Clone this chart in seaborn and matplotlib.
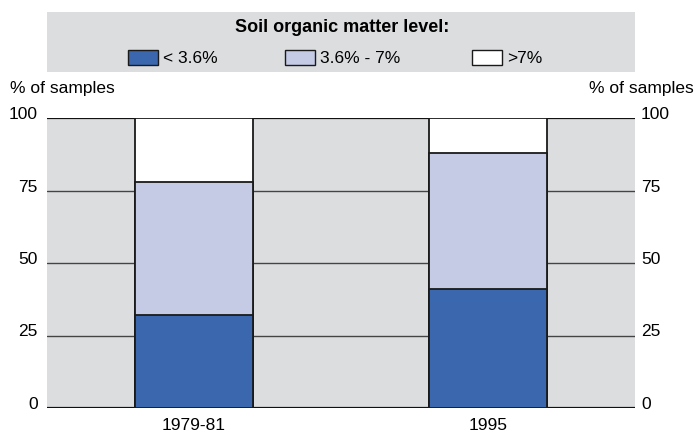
import matplotlib
matplotlib.use("Agg")
import matplotlib.pyplot as plt
from matplotlib.patches import Rectangle, Patch
from matplotlib import font_manager
import matplotlib.transforms as mtransforms
import seaborn as sns
import pandas as pd

# Share of samples by soil organic matter level
periods = ["1979-81", "1995"]
low = [32, 41]        # < 3.6%
mid = [46, 47]        # 3.6% - 7%
high = [22, 12]       # > 7%
level_labels = ["< 3.6%", "3.6% - 7%", ">7%"]
y_ticks = [0, 25, 50, 75, 100]

colors = ["#3a67ad", "#c5cae5", "#ffffff"]
panel_gray = "#dcdddf"

sns.set_style("white")
names = {f.name for f in font_manager.fontManager.ttflist}
fam = "Liberation Sans Narrow" if "Liberation Sans Narrow" in names else "Liberation Sans"
plt.rcParams["font.family"] = [fam, "DejaVu Sans"]
plt.rcParams["text.color"] = "black"
plt.rcParams["xtick.color"] = "black"
plt.rcParams["ytick.color"] = "black"

FS = 12.5

fig = plt.figure(figsize=(6.98, 4.34), dpi=100)
ax = fig.add_axes([47 / 698, 1 - 408 / 434, 588 / 698, 290 / 434])
ax.set_facecolor(panel_gray)

# Stacked bars: draw cumulative totals from the top layer down
cum_mid = [a + b for a, b in zip(low, mid)]
cum_high = [a + b + c for a, b, c in zip(low, mid, high)]
layers = [cum_high, cum_mid, low]
layer_colors = [colors[2], colors[1], colors[0]]

# Gridlines behind bars
for v in y_ticks:
    if v in (0, 100):
        ax.axhline(v, color="#111111", lw=1.6, zorder=1)
    else:
        ax.axhline(v, color="#444444", lw=1.0, zorder=1)

for vals, c in zip(layers, layer_colors):
    df = pd.DataFrame({"period": periods, "value": vals})
    sns.barplot(data=df, x="period", y="value", color=c, width=0.4,
                edgecolor="#1a1a1a", linewidth=1.3, saturation=1,
                ax=ax, zorder=3)

ax.set_xlim(-0.5, 1.5)
ax.set_ylim(0, 100)
ax.set_xlabel("")
ax.set_ylabel("")
ax.set_yticks(y_ticks)
ax.tick_params(axis="y", length=0, pad=6.5, labelsize=FS,
               left=True, right=False, labelleft=True, labelright=False)
ax.tick_params(axis="x", length=0, pad=7.5, labelsize=FS)
for s in ax.spines.values():
    s.set_visible(False)

# Right-hand value scale
axr = ax.twinx()
axr.set_ylim(0, 100)
axr.set_yticks(y_ticks)
axr.tick_params(axis="y", length=0, pad=4.3, labelsize=FS)
for s in axr.spines.values():
    s.set_visible(False)
axr.grid(False)

# Value labels sit on their gridlines
drop = mtransforms.ScaledTranslation(0, -1 / 100, fig.dpi_scale_trans)
for lab in ax.get_yticklabels() + axr.get_yticklabels():
    lab.set_va("baseline")
    lab.set_transform(lab.get_transform() + drop)

# Axis captions on both sides
fig.text(10 / 698, 1 - 88 / 434, "% of samples", fontsize=FS,
         ha="left", va="center")
fig.text(694 / 698, 1 - 88 / 434, "% of samples", fontsize=FS,
         ha="right", va="center")

# Legend panel
fig.patches.append(Rectangle((47 / 698, 1 - 72 / 434), 588 / 698, 60 / 434,
                             transform=fig.transFigure, facecolor=panel_gray,
                             edgecolor="none", zorder=0))
fig.text(342 / 698, 1 - 28 / 434, "Soil organic matter level:",
         fontsize=13, fontweight="bold", ha="center", va="center")
entry_x = [128, 285, 472]
for c, lab, x0 in zip(colors, level_labels, entry_x):
    h = Patch(facecolor=c, edgecolor="#1a1a1a", linewidth=1.0)
    fig.legend([h], [lab], loc="center left", frameon=False,
               bbox_to_anchor=(x0 / 698, 1 - 58 / 434), fontsize=FS,
               borderpad=0, borderaxespad=0,
               handlelength=1.72, handleheight=0.98, handletextpad=0.3)

fig.savefig("out.png", dpi=100)
